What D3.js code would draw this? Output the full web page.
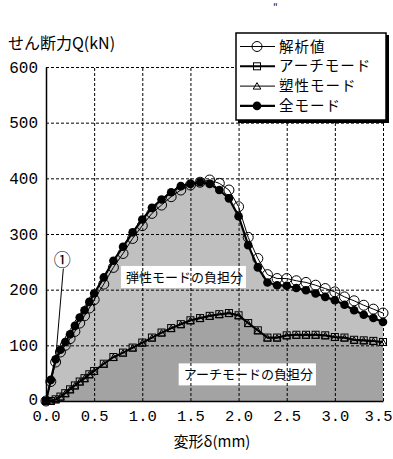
<!DOCTYPE html>
<html>
<head>
<meta charset="utf-8">
<script src="https://cdn.jsdelivr.net/npm/d3@7"></script>
<style>
  body { margin: 0; background: #fff; }
  text { font-family: "Noto Sans CJK JP", sans-serif; fill: #000; }
  .num { font-family: "Liberation Mono", "DejaVu Sans Mono", monospace; }
</style>
</head>
<body>
<svg width="393" height="459"></svg>
<script>
// deformation δ (mm)
var delta = [0, 0.05, 0.1, 0.15, 0.2, 0.25, 0.3, 0.35, 0.4, 0.45, 0.5,
  0.6, 0.7, 0.8, 0.9, 1.0, 1.1, 1.2, 1.3, 1.4, 1.5, 1.6, 1.7, 1.8, 1.9, 2.0,
  2.1, 2.2, 2.3, 2.4, 2.5, 2.6, 2.7, 2.8, 2.9, 3.0, 3.1, 3.2, 3.3, 3.4, 3.5];

// shear force Q (kN)
var analysisQ = [0, 35, 70, 88, 100, 112, 125, 140, 153, 167, 182,
  210, 240, 265, 292, 315, 337, 352, 367, 379, 388, 393, 397, 391, 379, 349,
  294, 256, 227, 220, 220, 216, 213, 208, 202, 196, 187, 180, 172, 165, 158];
var archQ = [0, 0, 3, 8, 14, 21, 28, 35, 41, 48, 54,
  67, 79, 87, 96, 105, 114, 123, 131, 138, 145, 149, 153, 156, 158, 154,
  140, 127, 114, 114, 118, 119, 119, 119, 118, 115, 114, 110, 109, 108, 106];
var plasticQ = [0, 0, 2, 7, 13, 20, 27, 34, 40, 47, 53,
  66, 78, 86, 95, 104, 113, 122, 130, 137, 144, 148, 152, 155, 157, 153,
  139, 126, 113, 113, 117, 118, 118, 118, 117, 114, 113, 109, 108, 107, 105];
var totalQ = [0, 38, 75, 92, 106, 120, 135, 150, 163, 178, 193,
  222, 252, 277, 303, 326, 347, 362, 375, 386, 390, 393, 390, 379, 364, 332,
  280, 240, 213, 208, 207, 203, 199, 193, 187, 181, 173, 163, 155, 149, 142];

var xTicks = [0, 0.5, 1.0, 1.5, 2.0, 2.5, 3.0, 3.5];
var yTicks = [0, 100, 200, 300, 400, 500, 600];
var legendLabels = ["解析値", "アーチモード", "塑性モード", "全モード"];

var svg = d3.select("svg");
var margin = {left: 46, top: 67, right: 10, bottom: 58};
var width = 383 - margin.left,
    height = 401 - margin.top;

var x = d3.scaleLinear().domain([0, 3.5]).range([margin.left, margin.left + width]);
var y = d3.scaleLinear().domain([0, 600]).range([margin.top + height, margin.top]);

function pts(vals) {
  return delta.map(function(d, i) { return [d, vals[i]]; });
}

var area = d3.area()
    .x(function(d) { return x(d[0]); })
    .y0(y(0))
    .y1(function(d) { return y(d[1]); });
var line = d3.line()
    .x(function(d) { return x(d[0]); })
    .y(function(d) { return y(d[1]); });

// shaded shares
svg.append("path").datum(pts(totalQ)).attr("d", area).attr("fill", "#c0c0c0");
svg.append("path").datum(pts(archQ)).attr("d", area).attr("fill", "#a3a3a3");

// share labels (white boxes)
function boxLabel(txt, dx, dy) {
  var g = svg.append("g");
  var t = g.append("text")
      .attr("x", x(dx)).attr("y", y(dy))
      .attr("dy", "0.35em")
      .attr("font-size", 13)
      .text(txt);
  var b = t.node().getBBox();
  g.insert("rect", "text")
      .attr("x", b.x - 5).attr("y", b.y - 1)
      .attr("width", b.width + 8).attr("height", b.height + 3)
      .attr("fill", "#fff");
}
boxLabel("弾性モードの負担分", 0.83, 222);
boxLabel("アーチモードの負担分", 1.43, 47);

// grid
var grid = svg.append("g").attr("stroke", "#000").attr("stroke-width", 1)
    .attr("stroke-dasharray", "3,2");
grid.selectAll(".gx").data(xTicks.slice(1)).enter().append("line")
    .attr("x1", function(d) { return x(d) + 0.5; })
    .attr("x2", function(d) { return x(d) + 0.5; })
    .attr("y1", y(0)).attr("y2", y(600));
grid.selectAll(".gy").data(yTicks.slice(1)).enter().append("line")
    .attr("x1", x(0)).attr("x2", x(3.5))
    .attr("y1", function(d) { return y(d) + 0.5; })
    .attr("y2", function(d) { return y(d) + 0.5; });

// axes
var xAxis = svg.append("g").attr("transform", "translate(0," + y(0) + ")")
    .call(d3.axisBottom(x).tickValues(xTicks).tickSize(0).tickPadding(9)
      .tickFormat(d3.format(".1f")));
var yAxis = svg.append("g").attr("transform", "translate(" + x(0) + ",0)")
    .call(d3.axisLeft(y).tickValues(yTicks).tickSize(0).tickPadding(8));
[xAxis, yAxis].forEach(function(a) {
  a.select(".domain").attr("stroke", "#000").attr("stroke-width", 1.5);
  a.selectAll("text").attr("class", "num").attr("font-size", 16)
      .attr("font-family", null).attr("fill", "#000");
});
xAxis.selectAll("text").attr("font-size", 15.5);
// "0" of the y axis sits a touch higher so it clears the x labels
yAxis.selectAll(".tick").filter(function(d) { return d === 0; }).select("text")
    .attr("y", -2);
// last x label sits against the right edge, as in the original
xAxis.selectAll(".tick").filter(function(d) { return d === 3.5; }).select("text")
    .attr("text-anchor", "end").attr("x", 392 - x(3.5));

// series
var series = [
  {vals: plasticQ, w: 1, marker: "tri"},
  {vals: archQ, w: 2, marker: "sq"},
  {vals: analysisQ, w: 1, marker: "open"},
  {vals: totalQ, w: 2.2, marker: "dot"}
];

function drawMarker(sel, type) {
  if (type === "open") {
    sel.append("circle").attr("r", 5).attr("fill", "none")
        .attr("stroke", "#000").attr("stroke-width", 1);
  } else if (type === "dot") {
    sel.append("circle").attr("r", 4.3).attr("fill", "#000");
  } else if (type === "sq") {
    sel.append("rect").attr("x", -3.5).attr("y", -3.5).attr("width", 7).attr("height", 7)
        .attr("fill", "none").attr("stroke", "#000").attr("stroke-width", 1);
  } else {
    sel.append("path").attr("d", "M0,-3.5L3.8,3L-3.8,3Z")
        .attr("fill", "none").attr("stroke", "#000").attr("stroke-width", 1);
  }
}

series.forEach(function(s) {
  var data = pts(s.vals);
  svg.append("path").datum(data).attr("d", line)
      .attr("fill", "none").attr("stroke", "#000").attr("stroke-width", s.w);
  var m = svg.append("g").selectAll("g").data(data).enter().append("g")
      .attr("transform", function(d) { return "translate(" + x(d[0]) + "," + y(d[1]) + ")"; });
  drawMarker(m, s.marker);
});

// ① annotation
svg.append("text").attr("x", x(0.17)).attr("y", y(254)).attr("dy", "0.35em")
    .attr("text-anchor", "middle").attr("font-size", 17).text("①");
svg.append("line")
    .attr("x1", x(0.18)).attr("y1", y(238))
    .attr("x2", x(delta[2])).attr("y2", y(totalQ[2]))
    .attr("stroke", "#000").attr("stroke-width", 1);

// axis titles
svg.append("text").attr("x", 8).attr("y", 49).attr("font-size", 16).text("せん断力Q(kN)");
svg.append("text").attr("x", 212).attr("y", 447).attr("text-anchor", "middle")
    .attr("font-size", 15).text("変形δ(mm)");
svg.append("text").attr("x", 273).attr("y", 11).attr("font-size", 10).text("\"");

// legend
var lg = svg.append("g").attr("transform", "translate(236,33)");
lg.append("rect").attr("x", 2).attr("y", 2).attr("width", 151).attr("height", 88).attr("fill", "#000");
lg.append("rect").attr("x", 0).attr("y", 0).attr("width", 150).attr("height", 87)
    .attr("fill", "#fff").attr("stroke", "#000").attr("stroke-width", 1.5);
var legendSeries = [series[2], series[1], series[0], series[3]];
legendLabels.forEach(function(lbl, i) {
  var row = lg.append("g").attr("transform", "translate(0," + (13.5 + i * 19.8) + ")");
  row.append("line").attr("x1", 4).attr("x2", 39).attr("stroke", "#000")
      .attr("stroke-width", legendSeries[i].w);
  drawMarker(row.append("g").attr("transform", "translate(21,0)"), legendSeries[i].marker);
  row.append("text").attr("x", 43).attr("dy", "0.35em").attr("font-size", 14.5)
      .attr("letter-spacing", 1).text(lbl);
});
</script>
</body>
</html>
